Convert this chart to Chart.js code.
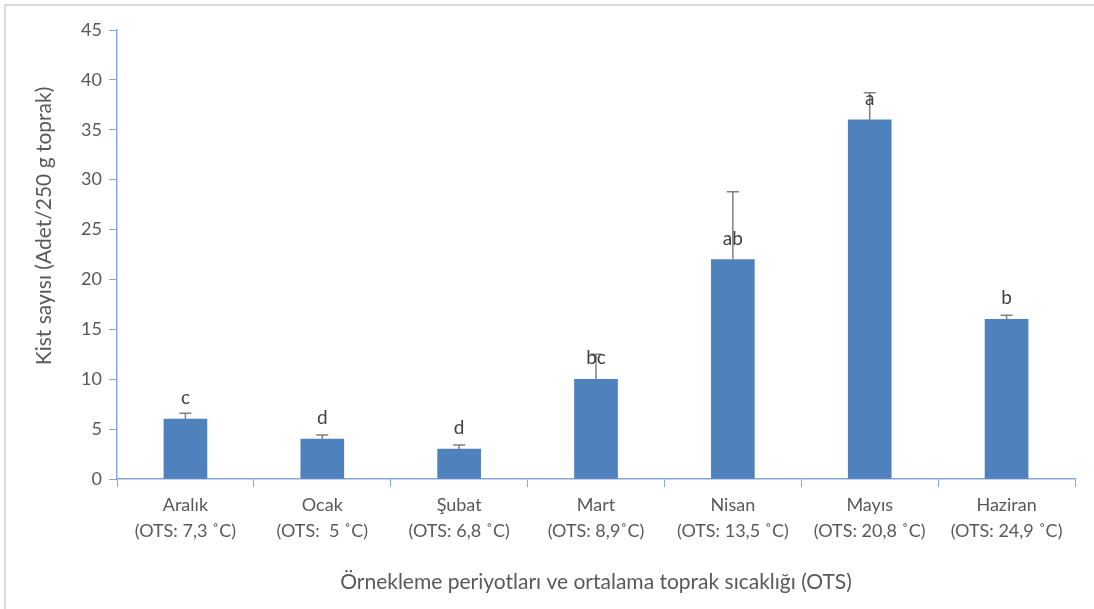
<!DOCTYPE html>
<html>
<head>
<meta charset="utf-8">
<script src="https://cdn.jsdelivr.net/npm/chart.js@4.4.1/dist/chart.umd.min.js"></script>
<style>
  html, body { margin: 0; padding: 0; background: #fff; }
  #frame { position: absolute; left: 0; top: 0; width: 1094px; height: 609px; }
  #border { position: absolute; left: 4px; top: 4px; width: 1200px; height: 700px;
            border-left: 2px solid #d9d9d9; border-top: 2px solid #d9d9d9; }
  canvas { position: absolute; left: 0; top: 0; }
</style>
</head>
<body>
<div id="frame">
  <div id="border"></div>
  <canvas id="c" width="1094" height="609"></canvas>
</div>
<script>
// Sampling periods with mean soil temperature (OTS)
const months = ['Aralık', 'Ocak', 'Şubat', 'Mart', 'Nisan', 'Mayıs', 'Haziran'];
const temps = ['(OTS: 7,3 ˚C)', '(OTS:  5 ˚C)', '(OTS: 6,8 ˚C)', '(OTS: 8,9˚C)',
               '(OTS: 13,5 ˚C)', '(OTS: 20,8 ˚C)', '(OTS: 24,9 ˚C)'];
// Mean cyst counts per 250 g soil and the upper error amount
const cystCounts = [6, 4, 3, 10, 22, 36, 16];
const cystErrors = [0.6, 0.4, 0.4, 2.5, 6.8, 2.7, 0.4];
// Significance groups
const groupLetters = ['c', 'd', 'd', 'bc', 'ab', 'a', 'b'];

const FONT = 'Lato, "Open Sans", sans-serif';
const TEXT = '#595959';
const AXIS = '#86a8d6';

const errorBars = {
  id: 'errorBars',
  afterDatasetsDraw(chart) {
    const { ctx, scales: { y } } = chart;
    const meta = chart.getDatasetMeta(0);
    ctx.save();
    ctx.strokeStyle = '#808080';
    ctx.lineWidth = 1.5;
    meta.data.forEach((bar, i) => {
      const yTop = y.getPixelForValue(cystCounts[i] + cystErrors[i]);
      const yBase = y.getPixelForValue(cystCounts[i]);
      ctx.beginPath();
      ctx.moveTo(bar.x, yBase);
      ctx.lineTo(bar.x, yTop);
      ctx.moveTo(bar.x - 6, yTop);
      ctx.lineTo(bar.x + 6, yTop);
      ctx.stroke();
    });
    // group letters above each bar
    ctx.fillStyle = '#404040';
    ctx.font = '19px ' + FONT;
    ctx.textAlign = 'center';
    ctx.textBaseline = 'middle';
    meta.data.forEach((bar, i) => {
      ctx.fillText(groupLetters[i], bar.x, y.getPixelForValue(cystCounts[i]) - 21);
    });
    // rotated y-axis title
    ctx.save();
    ctx.translate(44, 226);
    ctx.rotate(-Math.PI / 2);
    ctx.fillStyle = TEXT;
    ctx.font = '21px ' + FONT;
    ctx.fillText('Kist sayısı (Adet/250 g toprak)', 0, 0);
    ctx.restore();
    ctx.restore();
  }
};

new Chart(document.getElementById('c'), {
  type: 'bar',
  data: {
    labels: months.map((m, i) => [m, temps[i]]),
    datasets: [{
      data: cystCounts,
      backgroundColor: '#4f81bd',
      borderWidth: 0,
      barThickness: 43
    }]
  },
  options: {
    responsive: false,
    animation: false,
    devicePixelRatio: 1,
    layout: { padding: { left: 0, top: 30, right: 19, bottom: 0 } },
    plugins: { legend: { display: false }, tooltip: { enabled: false } },
    scales: {
      x: {
        offset: true,
        grid: { offset: true, drawOnChartArea: false, drawTicks: true, tickLength: 8, color: AXIS },
        border: { color: AXIS, width: 1.5 },
        ticks: { color: TEXT, font: { family: FONT, size: 18, lineHeight: 1.4 }, padding: 6, maxRotation: 0, autoSkip: false },
        title: { display: true, text: 'Örnekleme periyotları ve ortalama toprak sıcaklığı (OTS)',
                 color: TEXT, font: { family: FONT, size: 21 }, padding: { top: 0, bottom: 14 } },
        afterFit(s) { s.height = 130; }
      },
      y: {
        min: 0, max: 45,
        ticks: { stepSize: 5, color: TEXT, font: { family: FONT, size: 18 }, padding: 7 },
        grid: { drawOnChartArea: false, tickLength: 8, color: AXIS },
        border: { color: AXIS, width: 1.5 },
        afterFit(s) { s.width = 117; }
      }
    }
  },
  plugins: [errorBars]
});
</script>
</body>
</html>
